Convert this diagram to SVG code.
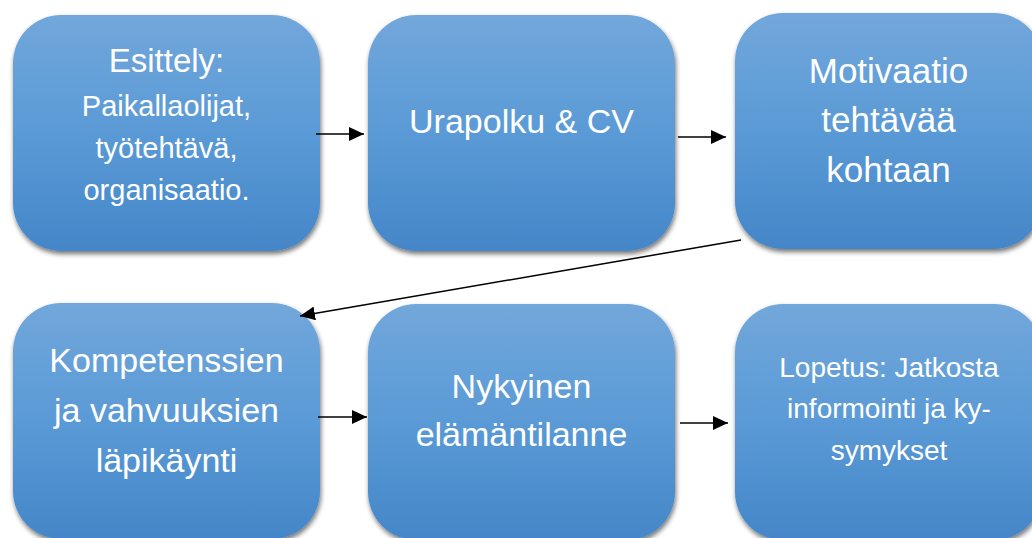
<svg xmlns="http://www.w3.org/2000/svg" width="1032" height="538" viewBox="0 0 1032 538">
<defs>
<linearGradient id="g" x1="0" y1="0" x2="0" y2="1">
<stop offset="0" stop-color="#72A7DB"/>
<stop offset="0.5" stop-color="#5A9AD6"/>
<stop offset="1" stop-color="#4486C8"/>
</linearGradient>
<filter id="sh" x="-10%" y="-10%" width="120%" height="125%">
<feGaussianBlur in="SourceAlpha" stdDeviation="2.5"/>
<feOffset dx="1" dy="3" result="b"/>
<feComponentTransfer><feFuncA type="linear" slope="0.55"/></feComponentTransfer>
<feMerge><feMergeNode/><feMergeNode in="SourceGraphic"/></feMerge>
</filter>
<marker id="ah" markerUnits="userSpaceOnUse" markerWidth="16" markerHeight="14" refX="15" refY="7" orient="auto">
<path d="M0,0 L15,7 L0,14 z" fill="#000"/>
</marker>
</defs>
<style>
.box{fill:url(#g);filter:url(#sh);}
.t{font-family:"Liberation Sans",Arial,sans-serif;fill:#fff;text-anchor:middle;}
.c{stroke:#000;stroke-width:1.5;fill:none;marker-end:url(#ah);}
</style>
<rect width="1032" height="538" fill="#fff"/>
<g id="n1">
<rect class="box" x="13" y="15" width="307" height="236" rx="48"/>
<text class="t" x="166.5" y="72" font-size="33">Esittely:</text>
<text class="t" x="166.5" y="116" font-size="29">Paikallaolijat,</text>
<text class="t" x="166.5" y="158" font-size="29">työtehtävä,</text>
<text class="t" x="166.5" y="200" font-size="29">organisaatio.</text>
</g>
<g id="n2">
<rect class="box" x="368" y="15" width="307" height="236" rx="48"/>
<text class="t" x="521.5" y="133" font-size="34">Urapolku &amp; CV</text>
</g>
<g id="n3">
<rect class="box" x="735" y="13" width="307" height="236" rx="48"/>
<text class="t" x="888.5" y="83" font-size="35">Motivaatio</text>
<text class="t" x="888.5" y="132" font-size="35">tehtävää</text>
<text class="t" x="888.5" y="182" font-size="35">kohtaan</text>
</g>
<g id="n4">
<rect class="box" x="13" y="303" width="307" height="236" rx="48"/>
<text class="t" x="166.5" y="372" font-size="34">Kompetenssien</text>
<text class="t" x="166.5" y="422" font-size="34">ja vahvuuksien</text>
<text class="t" x="166.5" y="472" font-size="34">läpikäynti</text>
</g>
<g id="n5">
<rect class="box" x="368" y="304" width="307" height="236" rx="48"/>
<text class="t" x="521.5" y="398" font-size="34">Nykyinen</text>
<text class="t" x="521.5" y="446" font-size="34">elämäntilanne</text>
</g>
<g id="n6">
<rect class="box" x="735" y="304" width="307" height="236" rx="48"/>
<text class="t" x="889" y="377" font-size="28">Lopetus: Jatkosta</text>
<text class="t" x="889" y="418" font-size="28">informointi ja ky-</text>
<text class="t" x="889" y="460" font-size="28">symykset</text>
</g>
<g id="connectors">
<line class="c" x1="316" y1="134" x2="364" y2="134"/>
<line class="c" x1="678" y1="137" x2="726" y2="137"/>
<line class="c" x1="741" y1="240" x2="300" y2="316"/>
<line class="c" x1="318" y1="417" x2="367" y2="417"/>
<line class="c" x1="680" y1="423" x2="728" y2="423"/>
</g>
</svg>
